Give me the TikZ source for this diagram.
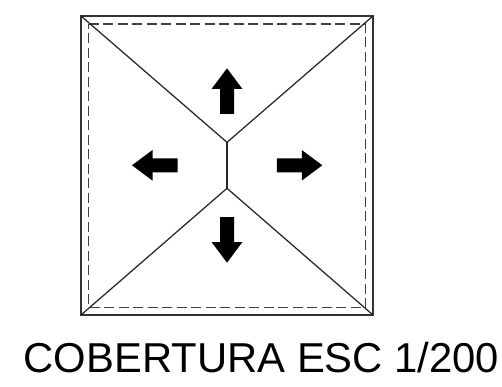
\documentclass[tikz,border=0pt]{standalone}
\usepackage{fontspec}
\setmainfont{Liberation Sans}
\tikzset{
  outerline/.style={draw=black!80,line width=1.2pt},
  eaveline/.style={draw=black!75,line width=1.3pt,dash pattern=on 10pt off 4.5pt},
  ridgeline/.style={draw=black!85,line width=1.25pt},
  flowarrow/.style={fill=black,draw=none},
  titletext/.style={font=\fontsize{41.8}{44}\selectfont,inner sep=0pt,anchor=base}
}
\newcommand{\flowshape}{(0,0) -- (20.5,-15.3) -- (20.5,-7) -- (45.5,-7) -- (45.5,7) -- (20.5,7) -- (20.5,15.3) -- cycle}
\begin{document}
\begin{tikzpicture}[x=1pt,y=-1pt]
\useasboundingbox (0,0) rectangle (502,386);
\coordinate (ne0) at (373,16);
\coordinate (nw0) at (81,16);
\coordinate (sw0) at (81,315);
\coordinate (se0) at (373,315);
\coordinate (nw1) at (88.7,24);
\coordinate (ne1) at (365.7,24);
\coordinate (sw1) at (88.7,307.7);
\coordinate (se1) at (365.7,307.7);
\coordinate (rt) at (227,142.3);
\coordinate (rb) at (227,188.3);
\draw[outerline] (nw0) rectangle (se0);
\draw[eaveline] (nw1) -- (ne1) -- (se1) -- (sw1) -- cycle;
\draw[ridgeline] (nw0) -- (rt) -- (ne0);
\draw[ridgeline] (sw0) -- (rb) -- (se0);
\draw[ridgeline] (rt) -- (rb);
\fill[flowarrow,shift={(227,68.3)},rotate=-90] \flowshape;
\fill[flowarrow,shift={(227,262.7)},rotate=90] \flowshape;
\fill[flowarrow,shift={(132,165.3)}] \flowshape;
\fill[flowarrow,shift={(322.3,165.3)},rotate=180] \flowshape;
\node[titletext] (title) at (261.5,372) {COBERTURA ESC 1/200};
\end{tikzpicture}
\end{document}
